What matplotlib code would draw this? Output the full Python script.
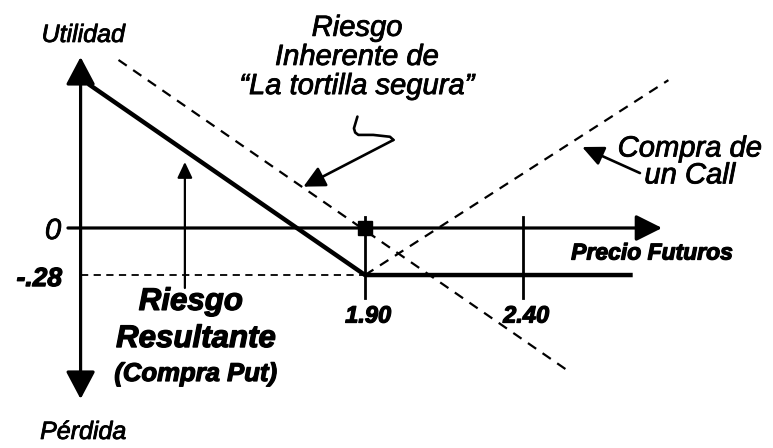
import matplotlib
matplotlib.use("Agg")
import matplotlib.pyplot as plt
import matplotlib.patheffects as pe

plt.rcParams['font.family'] = ['Liberation Sans', 'DejaVu Sans']

# payoff lines (price of futures vs utility)
strike = 1.90
premium = -0.28
tick_prices = [1.90, 2.40]
tick_labels = ['1.90', '2.40']

put_x = [1.03, 1.90, 2.74]          # riesgo resultante (compra put)
put_y = [0.85, -0.28, -0.28]
inherent_x = [1.12, 2.55]           # riesgo inherente
inherent_y = [1.00, -0.86]
call_x = [1.90, 2.86]               # compra de un call
call_y = [-0.28, 0.88]

# curly pointer to the inherent-risk line
squiggle_x = [1.876, 1.865, 1.869, 1.879, 1.926, 1.979, 1.990]
squiggle_y = [0.663, 0.593, 0.568, 0.554, 0.554, 0.543, 0.524]
squiggle_tip = (1.705, 0.246)
call_tail = (2.770, 0.327)
call_tip = (2.587, 0.482)
put_arrow_x = 1.33
put_arrow_y = [-0.357, 0.393]

fig = plt.figure(figsize=(7.73, 4.48), dpi=100)
ax = fig.add_axes([0, 0, 1, 1])
ax.set_xlim(0.745, 3.191)
ax.set_ylim(-1.3095, 1.357)
ax.axis('off')

# slightly heavier strokes for the labels (scanned look)
heavy = [pe.withStroke(linewidth=0.6, foreground='k')]
heavier = [pe.withStroke(linewidth=0.9, foreground='k')]

# axes with arrow heads
ax.annotate('', xy=(1.0, 1.018), xytext=(1.0, -1.018),
            arrowprops=dict(arrowstyle='<|-|>,head_length=0.85,head_width=0.45',
                            lw=2.3, color='k', mutation_scale=20, shrinkA=0, shrinkB=0))
ax.annotate('', xy=(2.84, 0), xytext=(0.96, 0),
            arrowprops=dict(arrowstyle='-|>,head_length=0.8,head_width=0.4',
                            lw=2.3, color='k', mutation_scale=20, shrinkA=0, shrinkB=0))

# ticks on price axis
for p in tick_prices:
    ax.plot([p, p], [0.065, -0.417], color='k', lw=2.0)

# reference line at -.28
ax.plot([1.0, strike], [premium, premium], color='k', lw=1.3, ls=(0, (4, 3)))

# payoffs
ax.plot(inherent_x, inherent_y, color='k', lw=1.6, ls=(0, (4.5, 3.5)))
ax.plot(call_x, call_y, color='k', lw=1.6, ls=(0, (4.5, 3.5)))
ax.plot(put_x, put_y, color='k', lw=3.2, solid_joinstyle='miter')
ax.plot([strike], [0], marker='s', color='k', markersize=10)

# arrow under the put line
ax.annotate('', xy=(put_arrow_x, put_arrow_y[1]), xytext=(put_arrow_x, put_arrow_y[0]),
            arrowprops=dict(arrowstyle='-|>,head_length=0.95,head_width=0.45',
                            lw=1.6, color='k', mutation_scale=10, shrinkA=0, shrinkB=0))

# squiggle pointer
ax.plot(squiggle_x, squiggle_y, color='k', lw=1.9, solid_capstyle='round')
ax.annotate('', xy=squiggle_tip, xytext=(squiggle_x[-1], squiggle_y[-1]),
            arrowprops=dict(arrowstyle='-|>,head_length=1.3,head_width=0.65',
                            lw=1.9, color='k', mutation_scale=10, shrinkA=0, shrinkB=0))
ax.annotate('', xy=call_tip, xytext=call_tail,
            arrowprops=dict(arrowstyle='-|>,head_length=1.3,head_width=0.6',
                            lw=1.9, color='k', mutation_scale=10, shrinkA=0, shrinkB=0))

# text
ax.text(1.008, 1.149, 'Utilidad', ha='center', va='center', style='italic', fontsize=18,
        path_effects=heavy)
ax.text(1.008, -1.214, 'Pérdida', ha='center', va='center', style='italic', fontsize=18,
        path_effects=heavy)
ax.text(1.875, 1.018, 'Riesgo\nInherente de\n“La tortilla segura”', ha='center', va='center',
        style='italic', fontsize=21, linespacing=1.05, path_effects=heavy)
ax.text(2.928, 0.393, 'Compra de\nun Call', ha='center', va='center',
        style='italic', fontsize=21, linespacing=0.95, path_effects=heavy)
ax.text(0.913, -0.018, '0', ha='center', va='center', style='italic', fontsize=21,
        path_effects=heavy)
ax.text(0.941, -0.304, '-.28', ha='right', va='center', style='italic',
        fontweight='bold', fontsize=19, path_effects=heavier)
for p, lab in zip(tick_prices, tick_labels):
    ax.text(p + 0.01, -0.524, lab, ha='center', va='center', style='italic',
            fontweight='bold', fontsize=17, path_effects=heavier)
ax.text(2.808, -0.149, 'Precio Futuros', ha='center', va='center', style='italic',
        fontweight='bold', fontsize=16.5, path_effects=heavier)
ax.text(1.349, -0.44, 'Riesgo', ha='center', va='center', style='italic',
        fontweight='bold', fontsize=22.5, path_effects=heavier)
ax.text(1.365, -0.661, 'Resultante', ha='center', va='center', style='italic',
        fontweight='bold', fontsize=22.5, path_effects=heavier)
ax.text(1.365, -0.869, '(Compra Put)', ha='center', va='center', style='italic',
        fontweight='bold', fontsize=18.5, path_effects=heavier)

fig.savefig('out.png', dpi=100)
